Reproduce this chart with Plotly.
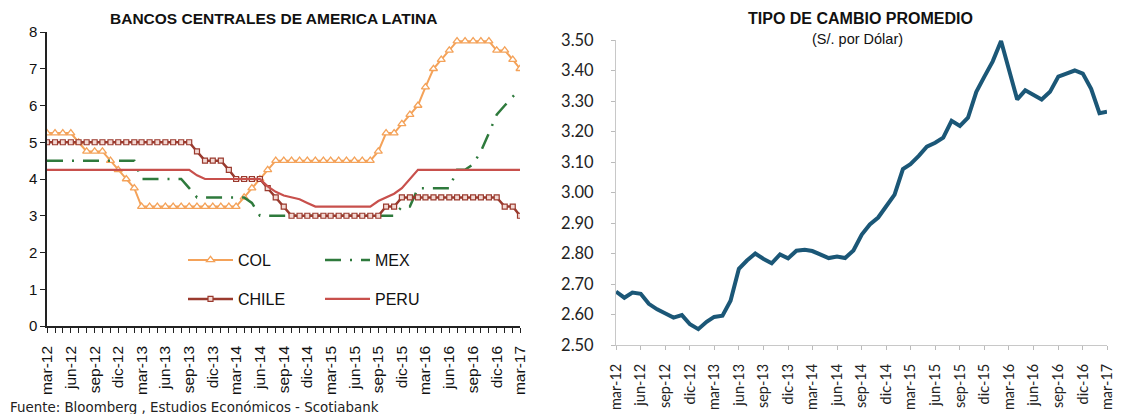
import pandas as pd
import plotly.graph_objects as go

# Monthly observations, mar-2012 .. mar-2017 (61 months)
months = pd.date_range("2012-03-01", "2017-03-01", freq="MS")

# Policy rates (%)
col = [5.25, 5.25, 5.25, 5.25, 5.00, 4.75, 4.75, 4.75, 4.50, 4.25,
       4.00, 3.75, 3.25, 3.25, 3.25, 3.25, 3.25, 3.25, 3.25, 3.25,
       3.25, 3.25, 3.25, 3.25, 3.25, 3.50, 3.75, 4.00, 4.25, 4.50,
       4.50, 4.50, 4.50, 4.50, 4.50, 4.50, 4.50, 4.50, 4.50, 4.50,
       4.50, 4.50, 4.75, 5.25, 5.25, 5.50, 5.75, 6.00, 6.50, 7.00,
       7.25, 7.50, 7.75, 7.75, 7.75, 7.75, 7.75, 7.50, 7.50, 7.25,
       7.00]
mex = [4.50, 4.50, 4.50, 4.50, 4.50, 4.50, 4.50, 4.50, 4.50, 4.50,
       4.50, 4.50, 4.00, 4.00, 4.00, 4.00, 4.00, 4.00, 3.75, 3.50,
       3.50, 3.50, 3.50, 3.50, 3.50, 3.50, 3.35, 3.00, 3.00, 3.00,
       3.00, 3.00, 3.00, 3.00, 3.00, 3.00, 3.00, 3.00, 3.00, 3.00,
       3.00, 3.00, 3.00, 3.00, 3.00, 3.25, 3.25, 3.75, 3.75, 3.75,
       3.75, 3.75, 4.25, 4.25, 4.40, 4.75, 5.25, 5.75, 6.00, 6.25,
       6.45]
chile = [5.00, 5.00, 5.00, 5.00, 5.00, 5.00, 5.00, 5.00, 5.00, 5.00,
         5.00, 5.00, 5.00, 5.00, 5.00, 5.00, 5.00, 5.00, 5.00, 4.75,
         4.50, 4.50, 4.50, 4.25, 4.00, 4.00, 4.00, 4.00, 3.75, 3.50,
         3.25, 3.00, 3.00, 3.00, 3.00, 3.00, 3.00, 3.00, 3.00, 3.00,
         3.00, 3.00, 3.00, 3.25, 3.25, 3.50, 3.50, 3.50, 3.50, 3.50,
         3.50, 3.50, 3.50, 3.50, 3.50, 3.50, 3.50, 3.50, 3.25, 3.25,
         3.00]
peru = [4.25, 4.25, 4.25, 4.25, 4.25, 4.25, 4.25, 4.25, 4.25, 4.25,
        4.25, 4.25, 4.25, 4.25, 4.25, 4.25, 4.25, 4.25, 4.25, 4.10,
        4.00, 4.00, 4.00, 4.00, 4.00, 4.00, 4.00, 4.00, 3.80, 3.65,
        3.55, 3.50, 3.45, 3.35, 3.25, 3.25, 3.25, 3.25, 3.25, 3.25,
        3.25, 3.25, 3.40, 3.50, 3.60, 3.75, 4.00, 4.25, 4.25, 4.25,
        4.25, 4.25, 4.25, 4.25, 4.25, 4.25, 4.25, 4.25, 4.25, 4.25,
        4.25]

# Average exchange rate (S/. per US$)
fx = [2.675, 2.655, 2.672, 2.668, 2.635, 2.617, 2.603, 2.590, 2.598, 2.568,
      2.552, 2.576, 2.592, 2.596, 2.645, 2.750, 2.777, 2.800, 2.782, 2.768,
      2.797, 2.784, 2.809, 2.812, 2.808, 2.797, 2.785, 2.790, 2.785, 2.810,
      2.862, 2.895, 2.918, 2.955, 2.993, 3.077, 3.093, 3.120, 3.150, 3.163,
      3.180, 3.235, 3.218, 3.245, 3.330, 3.380, 3.430, 3.497, 3.400, 3.305,
      3.335, 3.320, 3.305, 3.330, 3.380, 3.390, 3.400, 3.390, 3.340, 3.260,
      3.265]

tick_labels = ["mar-12", "jun-12", "sep-12", "dic-12", "mar-13", "jun-13",
               "sep-13", "dic-13", "mar-14", "jun-14", "sep-14", "dic-14",
               "mar-15", "jun-15", "sep-15", "dic-15", "mar-16", "jun-16",
               "sep-16", "dic-16", "mar-17"]
tick_dates = months[::3]

W, H = 1122, 414
ARIAL = "Liberation Sans, Arial, sans-serif"
CALIBRI = "Lato, Carlito, sans-serif"

fig = go.Figure()

fig.add_trace(go.Scatter(
    x=months, y=col, name="COL", mode="lines+markers",
    line=dict(color="#F4A259", width=2),
    marker=dict(symbol="triangle-up", size=7, color="white",
                line=dict(color="#F4A259", width=1.3)),
    xaxis="x", yaxis="y", legend="legend"))
fig.add_trace(go.Scatter(
    x=months, y=mex, name="MEX", mode="lines",
    line=dict(color="#2E7A3C", width=2.5, dash="16px,9px,2px,9px"),
    xaxis="x", yaxis="y", legend="legend"))
fig.add_trace(go.Scatter(
    x=months, y=chile, name="CHILE", mode="lines+markers",
    line=dict(color="#9A3A2E", width=2.5),
    marker=dict(symbol="square", size=5, color="#F3DAD5",
                line=dict(color="#9A3A2E", width=1.2)),
    xaxis="x", yaxis="y", legend="legend2"))
fig.add_trace(go.Scatter(
    x=months, y=peru, name="PERU", mode="lines",
    line=dict(color="#C8504C", width=2.2),
    xaxis="x", yaxis="y", legend="legend2"))

fig.add_trace(go.Scatter(
    x=months, y=fx, mode="lines", showlegend=False,
    line=dict(color="#1B5777", width=4),
    xaxis="x2", yaxis="y2"))

x_range = [months[0], months[-1]]

def px_x(p):
    return p / W

def px_y(p):
    return 1 - p / H

legend_common = dict(
    orientation="h", xanchor="left", yanchor="middle",
    font=dict(family=ARIAL, size=16, color="#111"),
    bgcolor="rgba(0,0,0,0)", entrywidth=77, itemwidth=45,
    traceorder="normal",
)

fig.update_layout(
    width=W, height=H, margin=dict(l=0, r=0, t=0, b=0, autoexpand=False),
    paper_bgcolor="white", plot_bgcolor="white",
    font=dict(family=ARIAL, color="#111"),
    xaxis=dict(
        domain=[px_x(47), px_x(520)], range=x_range, type="date",
        tickvals=tick_dates, ticktext=tick_labels, tickangle=-90,
        ticks="outside", ticklen=5, tickcolor="#222",
        minor=dict(dtick="M1", ticks="outside", ticklen=5, tickcolor="#222"),
        showline=True, linecolor="#222", linewidth=1.5,
        showgrid=False, zeroline=False, automargin=False,
        ticklabelstandoff=7,
        tickfont=dict(family=ARIAL, size=15.5, color="#111"),
        anchor="y",
    ),
    yaxis=dict(
        domain=[px_y(326), px_y(32)], range=[0, 8], dtick=1,
        ticks="outside", ticklen=5, tickcolor="#222",
        showline=True, linecolor="#222", linewidth=1.5,
        showgrid=False, zeroline=False, automargin=False,
        tickfont=dict(family=ARIAL, size=15, color="#111"),
        anchor="x",
    ),
    xaxis2=dict(
        domain=[px_x(616), px_x(1107)], range=x_range, type="date",
        tickvals=tick_dates, ticktext=tick_labels, tickangle=-90,
        ticks="outside", ticklen=4, tickcolor="#BBBBBB",
        showline=True, linecolor="#C8C8C8", linewidth=1,
        showgrid=False, zeroline=False, ticklabelstandoff=8, automargin=False,
        tickfont=dict(family=CALIBRI, size=14.5, color="#222"),
        anchor="y2",
    ),
    yaxis2=dict(
        domain=[px_y(345), px_y(40)], range=[2.5, 3.5], dtick=0.1,
        tickformat=".2f",
        ticks="outside", ticklen=4, tickcolor="#BBBBBB",
        showline=True, linecolor="#C8C8C8", linewidth=1,
        showgrid=False, zeroline=False, ticklabelstandoff=14, automargin=False,
        tickfont=dict(family=CALIBRI, size=16.5, color="#222"),
        anchor="x2",
    ),
    legend=dict(x=px_x(183), y=px_y(260), **legend_common),
    legend2=dict(x=px_x(183), y=px_y(299), **legend_common),
)

fig.add_annotation(
    text="<b>BANCOS CENTRALES DE AMERICA LATINA</b>", xref="paper", yref="paper",
    x=px_x(274), y=px_y(19), xanchor="center", yanchor="middle", showarrow=False,
    font=dict(family=ARIAL, size=15.5, color="#111"))
fig.add_annotation(
    text="<b>TIPO DE CAMBIO PROMEDIO</b>", xref="paper", yref="paper",
    x=px_x(860), y=px_y(19), xanchor="center", yanchor="middle", showarrow=False,
    font=dict(family=ARIAL, size=16, color="#111"))
fig.add_annotation(
    text="(S/. por Dólar)", xref="paper", yref="paper",
    x=px_x(858), y=px_y(39), xanchor="center", yanchor="middle", showarrow=False,
    font=dict(family=ARIAL, size=14.5, color="#111"))
fig.add_annotation(
    text="Fuente: Bloomberg , Estudios Económicos - Scotiabank",
    xref="paper", yref="paper",
    x=px_x(8), y=px_y(407), xanchor="left", yanchor="middle", showarrow=False,
    font=dict(family="DejaVu Sans, sans-serif", size=13.4, color="#222"))

fig.write_html("out.html")
